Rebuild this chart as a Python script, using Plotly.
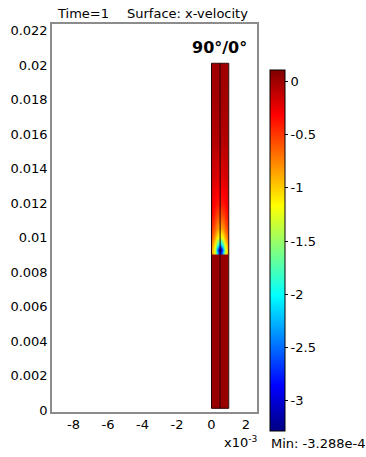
import plotly.graph_objects as go

# ---- data (lengths in mm, velocity in units of 1e-4 m/s) ----
x_cols_mm = [0.045, 0.136, 0.227, 0.318, 0.409, 0.5, 0.591, 0.682, 0.773, 0.864, 0.955]
y_rows_mm = [0.14, 0.2, 9.0, 9.1, 9.3, 9.6, 10.0, 10.5, 11.2, 12.0, 13.5, 15.5, 18.0, 20.0, 20.06]
u_field = [
    [0.03] * 11,
    [0.03] * 11,
    [0.03] * 11,
    [-0.85, -1.05, -1.4, -1.95, -2.6, -2.95, -2.6, -1.95, -1.4, -1.05, -0.85],
    [-0.9, -1.1, -1.5, -2.15, -2.9, -3.288, -2.9, -2.15, -1.5, -1.1, -0.9],
    [-0.8, -0.95, -1.2, -1.6, -2.0, -2.3, -2.0, -1.6, -1.2, -0.95, -0.8],
    [-0.65, -0.76, -0.92, -1.08, -1.22, -1.32, -1.22, -1.08, -0.92, -0.76, -0.65],
    [-0.5, -0.58, -0.68, -0.78, -0.85, -0.9, -0.85, -0.78, -0.68, -0.58, -0.5],
    [-0.36, -0.42, -0.5, -0.56, -0.6, -0.62, -0.6, -0.56, -0.5, -0.42, -0.36],
    [-0.26, -0.3, -0.34, -0.37, -0.39, -0.4, -0.39, -0.37, -0.34, -0.3, -0.26],
    [-0.16, -0.18, -0.2, -0.21, -0.22, -0.22, -0.22, -0.21, -0.2, -0.18, -0.16],
    [-0.06, -0.06, -0.07, -0.07, -0.07, -0.07, -0.07, -0.07, -0.07, -0.06, -0.06],
    [-0.01] * 11,
    [0.0] * 11,
    [0.0] * 11,
]
u_min = -3.288
u_max = 0.11
domain_x_mm = [0.0, 1.0]
domain_y_mm = [0.1, 20.1]

x_tick_vals = [-0.008, -0.006, -0.004, -0.002, 0.0, 0.002]
x_tick_text = ["-8", "-6", "-4", "-2", "0", "2"]
y_tick_vals = [0, 0.002, 0.004, 0.006, 0.008, 0.01, 0.012, 0.014, 0.016, 0.018, 0.02, 0.022]
y_tick_text = ["0", "0.002", "0.004", "0.006", "0.008", "0.01", "0.012", "0.014",
               "0.016", "0.018", "0.02", "0.022"]
cb_tick_vals = [0, -0.5, -1, -1.5, -2, -2.5, -3]
cb_tick_text = ["0", "-0.5", "-1", "-1.5", "-2", "-2.5", "-3"]

jet = [
    [0.0, "rgb(0,0,131)"],
    [0.125, "rgb(0,0,255)"],
    [0.375, "rgb(0,255,255)"],
    [0.625, "rgb(255,255,0)"],
    [0.875, "rgb(255,0,0)"],
    [1.0, "rgb(128,0,0)"],
]

FONT = "DejaVu Sans"
W, H = 366, 457
L, R, T, B = 52, 257, 24, 412


def px_x(p):
    return (p - L) / (R - L)


def px_y(p):
    return (B - p) / (B - T)


x_m = [v * 1e-3 for v in x_cols_mm]
y_m = [v * 1e-3 for v in y_rows_mm]
dx0, dx1 = [v * 1e-3 for v in domain_x_mm]
dy0, dy1 = [v * 1e-3 for v in domain_y_mm]
xmid = (dx0 + dx1) / 2

fig = go.Figure()
fig.add_trace(go.Heatmap(
    x=x_m, y=y_m, z=u_field, zmin=u_min, zmax=u_max,
    colorscale=jet, zsmooth="best", hoverinfo="skip",
    colorbar=dict(
        x=px_x(260), xanchor="left", xpad=10,
        y=px_y(441), yanchor="bottom", ypad=10,
        len=381, lenmode="pixels", thickness=15, thicknessmode="pixels",
        outlinewidth=1, outlinecolor="black",
        tickvals=cb_tick_vals, ticktext=cb_tick_text,
        ticks="outside", ticklen=3, tickcolor="black",
        tickfont=dict(family=FONT, size=13, color="black"),
    ),
))
# domain outline and interior boundary
fig.add_trace(go.Scatter(
    x=[dx0, dx1, dx1, dx0, dx0, None, xmid, xmid],
    y=[dy0, dy0, dy1, dy1, dy0, None, dy0, dy1],
    mode="lines", line=dict(color="#2a0000", width=1),
    hoverinfo="skip", showlegend=False,
))

axis_common = dict(showgrid=False, zeroline=False, showline=True, mirror=True,
                   linecolor="#8c8c8c", linewidth=1.5, ticks="",
                   tickfont=dict(family=FONT, size=13, color="black"))
fig.update_xaxes(range=[-0.009246, 0.002638], tickvals=x_tick_vals, ticktext=x_tick_text,
                 **axis_common)
fig.update_yaxes(range=[-0.000116, 0.022377], tickvals=y_tick_vals, ticktext=y_tick_text,
                 **axis_common)

anns = [
    dict(text="Time=1", x=px_x(55), y=px_y(13), xanchor="left", yanchor="middle",
         font=dict(family=FONT, size=13, color="black")),
    dict(text="Surface: x-velocity", x=px_x(125), y=px_y(13), xanchor="left", yanchor="middle",
         font=dict(family=FONT, size=13, color="black")),
    dict(text="<b>90°/0°</b>", x=px_x(249), y=px_y(47), xanchor="right", yanchor="middle",
         font=dict(family=FONT, size=16, color="black")),
    dict(text="x10<sup>-3</sup>", x=px_x(222), y=px_y(442), xanchor="left", yanchor="middle",
         font=dict(family=FONT, size=13, color="black")),
    dict(text="Min: -3.288e-4", x=px_x(269), y=px_y(443), xanchor="left", yanchor="middle",
         font=dict(family=FONT, size=13, color="black")),
]
for a in anns:
    a.update(xref="paper", yref="paper", showarrow=False)

fig.update_layout(
    width=W, height=H,
    margin=dict(l=L, r=W - R, t=T, b=H - B, pad=0, autoexpand=False),
    paper_bgcolor="white", plot_bgcolor="white",
    annotations=anns, showlegend=False,
)

fig.write_html("out.html", config={"displayModeBar": False},
               post_script="document.body.style.margin='0';document.body.style.overflow='hidden';")
